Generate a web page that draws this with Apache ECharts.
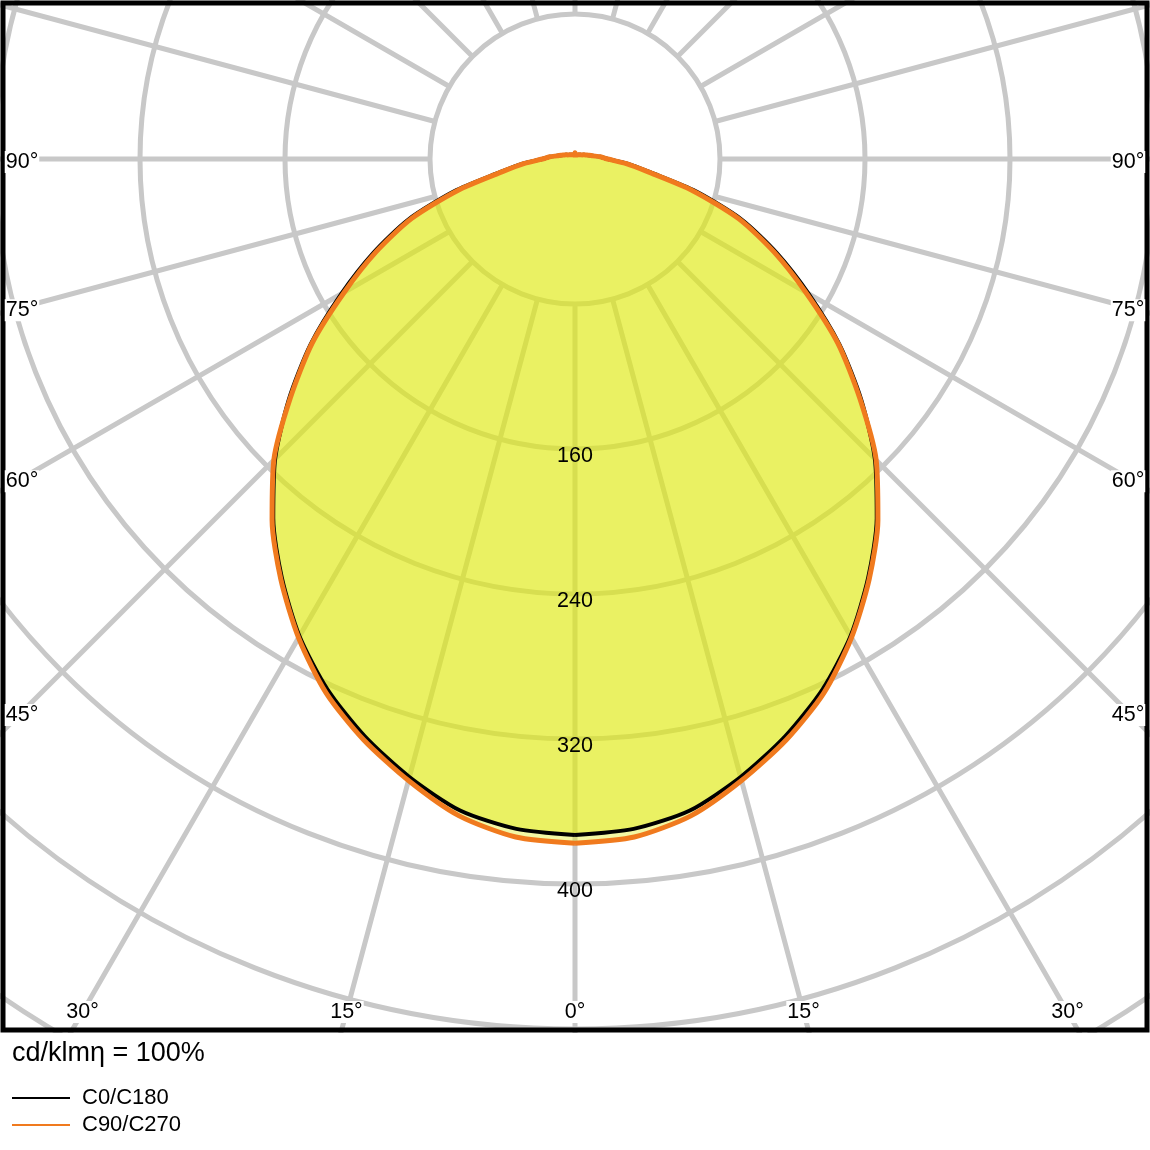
<!DOCTYPE html>
<html>
<head>
<meta charset="utf-8">
<script src="https://cdn.jsdelivr.net/npm/echarts@6/dist/echarts.min.js"></script>
<style>html,body{margin:0;padding:0;background:#fff;} #chart{width:1150px;height:1150px;}</style>
</head>
<body>
<div id="chart"></div>
<script>
// ---- data (gamma angle from nadir, cd/klm) ----
const anglesDeg = [0,5,10,15,20,25,30,35,40,45,50,55,60,65,70,75,80,85,90,95,100,105,110,115,120,125,130,135,140,145,150,155,160,165,170,175,180];
const c0   = [373,371,365,353,339,323,304,282,259,234,206,178,149,123,98,69,42,29,18,14,10,8,6.5,5.5,4.5,4,3.6,3.3,3,2.8,2.6,2.5,2.4,2.3,2.2,2.2,2.2];
const c180 = [373,371,365,353,339,323,304,282,259,234,206,178,149,123,98,69,42,29,18,14,10,8,6.5,5.5,4.5,4,3.6,3.3,3,2.8,2.6,2.5,2.4,2.3,2.2,2.2,2.2];
const c90  = [377.5,375.5,368,355,341,325,305,283,260,235,205,177,147,121,96,67,41,28,18,14,10,8,6.5,5.5,4.5,4,3.6,3.3,3,2.8,2.6,2.5,2.4,2.3,2.2,2.2,3.5];
const c270 = [377.5,375.5,368,355,341,325,305,283,260,235,205,177,147,121,96,67,41,28,18,14,10,8,6.5,5.5,4.5,4,3.6,3.3,3,2.8,2.6,2.5,2.4,2.3,2.2,2.2,3.5];
const seriesNames = ['C0/C180', 'C90/C270'];
const radiusLabels = [160, 240, 320, 400];
const sideAngleLabels = [90, 75, 60, 45];
const bottomAngleLabels = [-30, -15, 0, 15, 30];
const titleText = 'cd/klmη = 100%';

// ---- layout / style ----
const CX = 575, CY = 159, R_OUT = 1160, R_IN = 145;
const FONT = "'Liberation Sans', Arial, sans-serif";
const GRAY = {color: '#c8c8c8', width: 5};
const FILL = 'rgb(223,235,17)';
const ORANGE = '#f07a1e';

function loop(right, left) {
  const pts = [];
  for (let i = 0; i < anglesDeg.length; i++) pts.push([right[i], anglesDeg[i]]);
  for (let i = anglesDeg.length - 2; i >= 0; i--) pts.push([left[i], 360 - anglesDeg[i]]);
  return pts;
}

const hiddenAngle = (idx, split) => ({
  polarIndex: idx, type: 'value', min: 0, max: 360, interval: 15, startAngle: 270, clockwise: false,
  axisLine: {show: false}, axisTick: {show: false}, axisLabel: {show: false},
  splitLine: {show: split, lineStyle: GRAY}, splitArea: {show: false}
});

const labelEls = [];
const rad = Math.PI / 180;
sideAngleLabels.forEach(a => {
  const y = CY + (CX - 22) / Math.tan(a * rad) + 3;
  [22, 1128].forEach(x => labelEls.push({
    type: 'text', z: 102, x: x, y: y,
    style: {text: a + '°', fill: '#000', font: '21.5px ' + FONT, align: 'center', verticalAlign: 'middle', backgroundColor: '#fff', padding: [0, 1]}
  }));
});
bottomAngleLabels.forEach(a => {
  const y = 1012;
  const x = CX + (y - CY) * Math.tan(a * rad);
  labelEls.push({
    type: 'text', z: 102, x: x, y: y,
    style: {text: Math.abs(a) + '°', fill: '#000', font: '21.5px ' + FONT, align: 'center', verticalAlign: 'middle', backgroundColor: '#fff', padding: [0, 1]}
  });
});

const option = {
  animation: false,
  backgroundColor: '#fff',
  title: {
    text: titleText, left: 12, top: 1040, padding: 0, z: 200,
    textStyle: {fontFamily: FONT, fontSize: 27, fontWeight: 'normal', color: '#000'}
  },
  legend: {
    data: [
      {name: seriesNames[0], itemStyle: {color: '#000'}},
      {name: seriesNames[1], itemStyle: {color: ORANGE}}
    ],
    orient: 'vertical', left: 12, top: 1087, padding: 0,
    itemWidth: 58, itemHeight: 2, itemGap: 5, icon: 'rect', z: 200, selectedMode: false,
    textStyle: {fontFamily: FONT, fontSize: 22, color: '#000', padding: [0, 0, 0, 7], lineHeight: 21}
  },
  polar: [
    {center: [CX, CY], radius: [R_IN, R_OUT]},
    {center: [CX, CY], radius: [0, R_OUT]},
    {center: [CX, CY], radius: [0, R_OUT]}
  ],
  angleAxis: [hiddenAngle(0, true), hiddenAngle(1, false), hiddenAngle(2, false)],
  radiusAxis: [
    {polarIndex: 0, type: 'value', min: 0, max: 640, interval: 80,
     axisLine: {show: false}, axisTick: {show: false}, axisLabel: {show: false}, splitLine: {show: false}},
    {polarIndex: 1, type: 'value', min: 0, max: 640, interval: 80,
     axisLine: {show: false}, axisTick: {show: false}, axisLabel: {show: false},
     splitLine: {show: true, lineStyle: GRAY}},
    {polarIndex: 2, type: 'value', min: 0, max: 640, interval: 80, z: 50,
     axisLine: {show: false}, axisTick: {show: false}, splitLine: {show: false},
     axisLabel: {show: true, margin: 0, align: 'center', verticalAlign: 'top', lineHeight: 14,
       fontFamily: FONT, fontSize: 21.5, color: '#000',
       formatter: v => radiusLabels.includes(v) ? String(v) : ''}}
  ],
  series: [
    {type: 'line', name: seriesNames[0], coordinateSystem: 'polar', polarIndex: 1,
     data: loop(c0, c180), symbol: 'none', smooth: 0.25, color: '#000',
     lineStyle: {color: '#000', width: 4, join: 'round'},
     areaStyle: {color: FILL, opacity: 0.435}},
    {type: 'line', name: seriesNames[1], coordinateSystem: 'polar', polarIndex: 1,
     data: loop(c90, c270), symbol: 'none', smooth: 0.25, color: ORANGE,
     lineStyle: {color: ORANGE, width: 5, join: 'round'},
     areaStyle: {color: FILL, opacity: 0.38}}
  ],
  graphic: {elements: [
    {type: 'rect', z: 100, shape: {x: 0, y: 1033, width: 1150, height: 117}, style: {fill: '#fff'}},
    {type: 'rect', z: 101, shape: {x: 3, y: 3, width: 1144, height: 1027}, style: {fill: null, stroke: '#000', lineWidth: 5}}
  ].concat(labelEls)}
};

const chart = echarts.init(document.getElementById('chart'), null, {renderer: 'canvas'});
chart.setOption(option);
</script>
</body>
</html>
